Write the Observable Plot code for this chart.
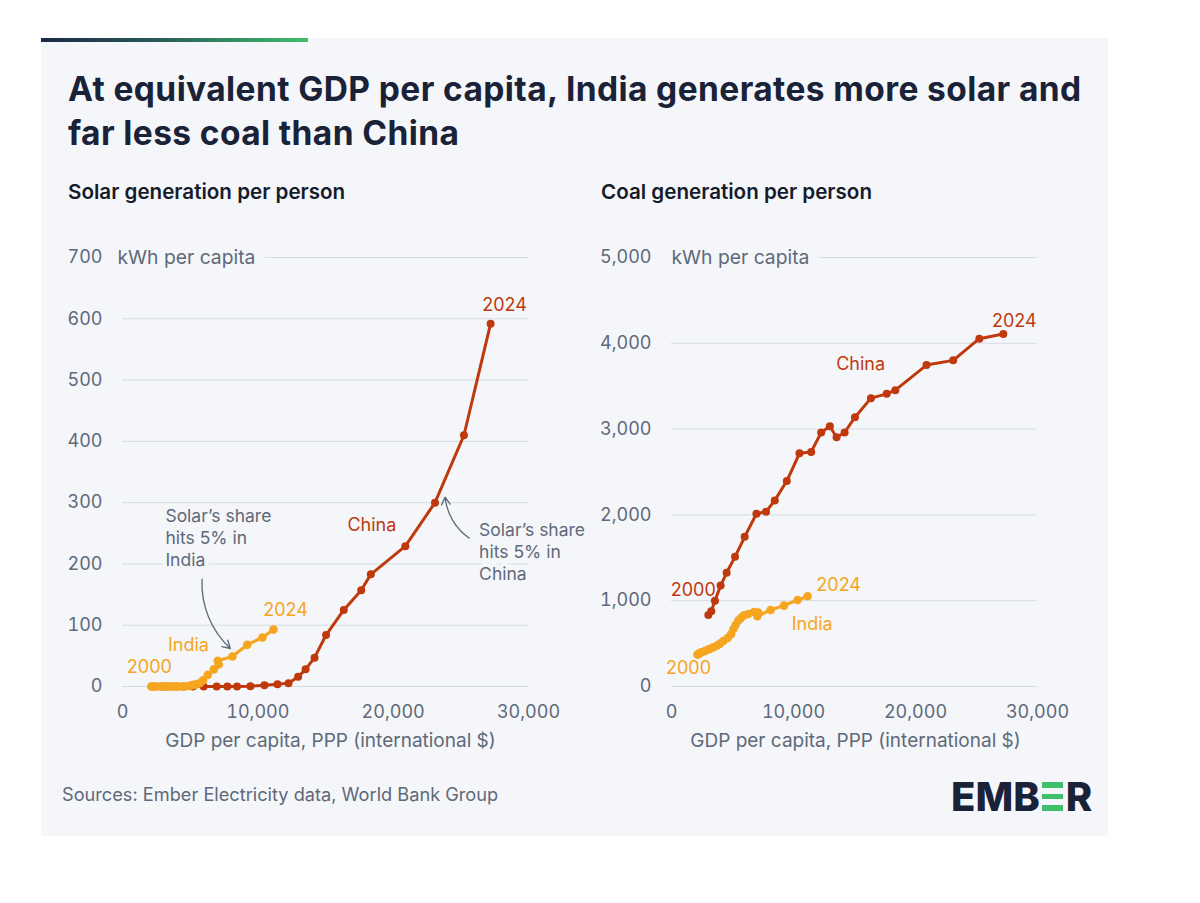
<!DOCTYPE html>
<html>
<head>
<meta charset="utf-8">
<script src="https://cdn.jsdelivr.net/npm/d3@7"></script>
<script src="https://cdn.jsdelivr.net/npm/@observablehq/plot@0.6"></script>
<style>
  body { margin:0; background:#fff; width:1200px; height:903px; position:relative; overflow:hidden; font-family: Inter, "Open Sans", sans-serif; }
  .panel { position:absolute; left:41px; top:38px; width:1067px; height:798px; background:#f4f6f9; }
  .bar { position:absolute; left:41px; top:38px; width:267px; height:4px; background:linear-gradient(90deg,#1b2946 0%,#2a5c58 45%,#3fbf6b 100%); }
  .title { position:absolute; left:68px; top:68px; font-weight:700; font-size:33.5px; line-height:43.5px; color:#1a2238; letter-spacing:0.4px; white-space:nowrap; }
  .sub { position:absolute; top:180px; font-weight:600; font-size:20.6px; line-height:24px; color:#161b2b; white-space:nowrap; }
  .chart { position:absolute; top:230px; }
  .source { position:absolute; left:62px; top:783px; font-size:18.2px; line-height:22px; color:#5e6979; white-space:nowrap; }
  .logo { position:absolute; left:951px; top:777px; font-size:40px; font-weight:800; line-height:40px; color:#1a2238; letter-spacing:0px; white-space:nowrap; }
  .logo .e { display:inline-block; width:21px; height:29px; margin:0 3px 0 2px; background:linear-gradient(#3fbf6b 0 6px, transparent 6px 11.5px, #3fbf6b 11.5px 17.5px, transparent 17.5px 23px, #3fbf6b 23px 29px); }
</style>
</head>
<body>
<div class="panel"></div>
<div class="bar"></div>
<div class="title">At equivalent GDP per capita, India generates more solar and<br>far less coal than China</div>
<div class="sub" style="left:68px">Solar generation per person</div>
<div class="sub" style="left:601px">Coal generation per person</div>
<div id="left" class="chart" style="left:0px"></div>
<div id="right" class="chart" style="left:560px"></div>
<div class="source">Sources: Ember Electricity data, World Bank Group</div>
<div class="logo">EMB<span class="e"></span>R</div>
<script>
// ---- data ----
const years = [2000,2001,2002,2003,2004,2005,2006,2007,2008,2009,2010,2011,2012,2013,2014,2015,2016,2017,2018,2019,2020,2021,2022,2023,2024];

const chinaGdp   = [3016,3262,3558,4026,4519,5205,5998,6960,7750,8463,9450,10490,11450,12270,12980,13530,14190,15040,16350,17640,18350,20900,23090,25230,27200];
const chinaSolar = [0,0,0,0,0,0,0,0,0.1,0.2,0.5,1.9,3.5,5.5,16,28,47,84,125,157,183,229,300,410,592];
const chinaCoal  = [834,876,998,1176,1325,1511,1745,2014,2037,2169,2395,2718,2734,2960,3034,2905,2960,3139,3361,3411,3454,3746,3801,4054,4109];

const indiaGdp   = [2130,2230,2350,2540,2800,3100,3420,3750,3980,4250,4600,4880,5080,5260,5480,5700,5950,6300,6750,7110,7040,8120,9220,10340,11160];
const indiaSolar = [0,0,0,0,0,0,0,0,0,0,0.1,0.8,1.8,2.7,3.8,5.3,10,19,28,36,42,49,68,80,93];
const indiaCoal  = [372,380,392,402,418,436,456,478,500,530,565,610,670,720,770,800,830,845,868,862,818,892,943,1008,1051];

const gdpTicks   = [0,10000,20000,30000];
const solarTicks = [0,100,200,300,400,500,600,700];
const coalTicks  = [0,1000,2000,3000,4000,5000];

const unitLabel = "kWh per capita";
const xLabel = "GDP per capita, PPP (international $)";

const solarSeriesLabels = [{x:4870, y:67, text:"India", series:"India"}, {x:18430, y:263, text:"China", series:"China"}];
const coalSeriesLabels  = [{x:15505, y:3755, text:"China", series:"China"}, {x:11530, y:729, text:"India", series:"India"}];
const solarNotes  = [{x:3170, y:293, text:"Solar’s share\nhits 5% in\nIndia"}, {x:26350, y:271, text:"Solar’s share\nhits 5% in\nChina"}];
const solarArrowsIndia = [{x1:5880, y1:175, x2:7970, y2:62}];
const solarArrowsChina = [{x1:25630, y1:242, x2:23840, y2:309}];

// ---- styles ----
const bg = "#f4f6f9", red = "#c0390c", orange = "#f6a51f", gray = "#5e6979", grid = "#d7dce3";
const fmt = d3.format(",");
const colorOf = s => s === "China" ? red : orange;

const china = years.map((year, i) => ({year, gdp: chinaGdp[i], solar: chinaSolar[i], coal: chinaCoal[i]}));
const india = years.map((year, i) => ({year, gdp: indiaGdp[i], solar: indiaSolar[i], coal: indiaCoal[i]}));

function baseMarks(yTicks, unitDx, xLabelDx) {
  return [
    Plot.ruleY(yTicks, {stroke: grid, strokeWidth: 1}),
    Plot.axisY({ticks: yTicks, tickSize: 0, tickPadding: 20, tickFormat: fmt, label: null}),
    Plot.axisX({ticks: gdpTicks, tickSize: 0, tickPadding: 19, tickFormat: fmt, label: null}),
    Plot.text([unitLabel], {text: d => d, frameAnchor: "top-left", lineAnchor: "middle", dx: unitDx, textAnchor: "start", fontSize: 19.3, fill: gray, stroke: bg, strokeWidth: 22, paintOrder: "stroke"}),
    Plot.text([xLabel], {text: d => d, frameAnchor: "bottom", lineAnchor: "middle", dy: 54, dx: xLabelDx, fontSize: 19, fill: gray})
  ];
}

function seriesMarks(key) {
  return [
    Plot.line(china, {x: "gdp", y: key, stroke: red, strokeWidth: 3}),
    Plot.dot(china, {x: "gdp", y: key, r: 4, fill: red}),
    Plot.line(india, {x: "gdp", y: key, stroke: orange, strokeWidth: 3.2}),
    Plot.dot(india, {x: "gdp", y: key, r: 4.3, fill: orange})
  ];
}

const styleObj = {background: "transparent", fontFamily: "Inter, 'Open Sans', sans-serif", fontSize: "18px", color: gray, overflow: "visible"};

const left = Plot.plot({
  width: 600, height: 530,
  marginLeft: 122, marginRight: 72, marginTop: 27, marginBottom: 74,
  x: {domain: [0, 30000]},
  y: {domain: [0, 700]},
  style: styleObj,
  marks: [
    ...baseMarks(solarTicks, -5, 5),
    ...seriesMarks("solar"),
    Plot.text([india[0]], {x: "gdp", y: "solar", text: d => String(d.year), dx: -2, dy: -19, fill: orange}),
    Plot.text([india[india.length - 1]], {x: "gdp", y: "solar", text: d => String(d.year), dx: 12, dy: -19, fill: orange}),
    Plot.text([china[china.length - 1]], {x: "gdp", y: "solar", text: d => String(d.year), dx: 14, dy: -18, fill: red}),
    Plot.text(solarSeriesLabels, {x: "x", y: "y", text: "text", fill: d => colorOf(d.series)}),
    Plot.text(solarNotes, {x: "x", y: "y", text: "text", textAnchor: "start", lineAnchor: "top", lineHeight: 1.25, fontSize: 17.5, fill: gray, stroke: bg, strokeWidth: 8, paintOrder: "stroke"}),
    Plot.arrow(solarArrowsIndia, {x1: "x1", y1: "y1", x2: "x2", y2: "y2", bend: -25, stroke: gray, strokeWidth: 1.3, headLength: 10}),
    Plot.arrow(solarArrowsChina, {x1: "x1", y1: "y1", x2: "x2", y2: "y2", bend: 25, stroke: gray, strokeWidth: 1.3, headLength: 10})
  ]
});
document.getElementById("left").append(left);

const right = Plot.plot({
  width: 560, height: 530,
  marginLeft: 111, marginRight: 83, marginTop: 27, marginBottom: 74,
  x: {domain: [0, 30000]},
  y: {domain: [0, 5000]},
  style: styleObj,
  marks: [
    ...baseMarks(coalTicks, 0, 1),
    ...seriesMarks("coal"),
    Plot.text([china[0]], {x: "gdp", y: "coal", text: d => String(d.year), dx: -15, dy: -25, fill: red}),
    Plot.text([india[0]], {x: "gdp", y: "coal", text: d => String(d.year), dx: -9, dy: 14, fill: orange}),
    Plot.text([china[china.length - 1]], {x: "gdp", y: "coal", text: d => String(d.year), dx: 11, dy: -13, fill: red}),
    Plot.text([india[india.length - 1]], {x: "gdp", y: "coal", text: d => String(d.year), dx: 31, dy: -11, fill: orange}),
    Plot.text(coalSeriesLabels, {x: "x", y: "y", text: "text", fill: d => colorOf(d.series)})
  ]
});
document.getElementById("right").append(right);
</script>
</body>
</html>
